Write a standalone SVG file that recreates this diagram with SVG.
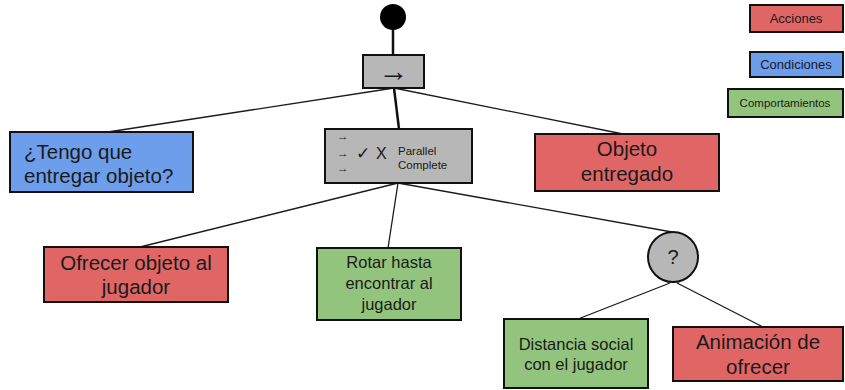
<svg xmlns="http://www.w3.org/2000/svg" width="845" height="390" viewBox="0 0 845 390">
  <style>
    .box { stroke: #111; stroke-width: 2; }
    .accion { fill: #e06666; }
    .condicion { fill: #6d9eeb; }
    .comportamiento { fill: #93c47d; }
    .control { fill: #b7b7b7; }
    .t { font-family: "Liberation Sans", Arial, sans-serif; fill: #1a1a1a; }
    .c { text-anchor: middle; }
    .edge { stroke: #1a1a1a; stroke-width: 1.3; fill: none; }
    .edge-main { stroke: #111; stroke-width: 2.5; fill: none; }
  </style>
  <rect width="845" height="390" fill="#ffffff"/>

  <!-- connectors -->
  <g id="connectors">
    <line class="edge-main" x1="393" y1="30" x2="393" y2="55"/>
    <line class="edge-main" x1="394" y1="88" x2="399" y2="129"/>
    <line class="edge" x1="394" y1="88" x2="108" y2="132"/>
    <line class="edge" x1="394" y1="88" x2="623" y2="134"/>
    <line class="edge" x1="398" y1="183" x2="140" y2="247"/>
    <line class="edge" x1="398" y1="183" x2="388" y2="248"/>
    <line class="edge" x1="398" y1="183" x2="672" y2="232"/>
    <line class="edge" x1="670" y1="283" x2="578" y2="319"/>
    <line class="edge" x1="677" y1="283" x2="763" y2="327"/>
  </g>

  <!-- root -->
  <g id="raiz">
    <circle cx="393" cy="17" r="13" fill="#000"/>
  </g>

  <!-- sequence -->
  <g id="secuencia">
    <rect class="box control" x="363" y="55" width="61" height="33"/>
    <text class="t c" x="393.5" y="81" font-size="30">→</text>
  </g>

  <!-- parallel -->
  <g id="paralelo">
    <rect class="box control" x="325" y="129" width="147" height="54"/>
    <text class="t" x="337" y="140" font-size="11.5" fill="#444">→</text>
    <text class="t" x="337" y="157" font-size="11.5" fill="#444">→</text>
    <text class="t" x="337" y="172" font-size="11.5" fill="#444">→</text>
    <text class="t" x="356" y="159" font-size="17">✓</text>
    <text class="t" x="376" y="159" font-size="16">X</text>
    <text class="t" x="398" y="155" font-size="11.5">Parallel</text>
    <text class="t" x="398" y="169" font-size="11.5">Complete</text>
  </g>

  <g id="tengo-que-entregar">
    <rect class="box condicion" x="10" y="132" width="183" height="60"/>
    <text class="t" x="24" y="159" font-size="20.5">¿Tengo que</text>
    <text class="t" x="24" y="183" font-size="20.5">entregar objeto?</text>
  </g>

  <g id="objeto-entregado">
    <rect class="box accion" x="535" y="134" width="184" height="57"/>
    <text class="t c" x="627" y="156" font-size="20.5">Objeto</text>
    <text class="t c" x="627" y="181" font-size="20.5">entregado</text>
  </g>

  <g id="ofrecer-objeto">
    <rect class="box accion" x="44" y="247" width="184" height="55"/>
    <text class="t c" x="136" y="270" font-size="20.5">Ofrecer objeto al</text>
    <text class="t c" x="136" y="294" font-size="20.5">jugador</text>
  </g>

  <g id="rotar">
    <rect class="box comportamiento" x="317" y="248" width="144" height="72"/>
    <text class="t c" x="389" y="268" font-size="16.5">Rotar hasta</text>
    <text class="t c" x="389" y="289" font-size="16.5">encontrar al</text>
    <text class="t c" x="389" y="310" font-size="16.5">jugador</text>
  </g>

  <g id="selector">
    <circle class="box control" cx="673" cy="257" r="25"/>
    <text class="t c" x="673" y="264" font-size="20">?</text>
  </g>

  <g id="distancia-social">
    <rect class="box comportamiento" x="504" y="319" width="144" height="69"/>
    <text class="t c" x="576" y="350" font-size="16.5">Distancia social</text>
    <text class="t c" x="576" y="370" font-size="16.5">con el jugador</text>
  </g>

  <g id="animacion-ofrecer">
    <rect class="box accion" x="673" y="327" width="170" height="54"/>
    <text class="t c" x="758" y="349" font-size="20.5">Animación de</text>
    <text class="t c" x="758" y="374" font-size="20.5">ofrecer</text>
  </g>

  <!-- legend -->
  <g id="leyenda-acciones">
    <rect class="box accion" x="750" y="5" width="93" height="27"/>
    <text class="t c" x="796" y="23" font-size="13">Acciones</text>
  </g>
  <g id="leyenda-condiciones">
    <rect class="box condicion" x="750" y="52" width="93" height="25"/>
    <text class="t c" x="796" y="69" font-size="13">Condiciones</text>
  </g>
  <g id="leyenda-comportamientos">
    <rect class="box comportamiento" x="728" y="89" width="115" height="28"/>
    <text class="t c" x="785" y="107" font-size="11.5">Comportamientos</text>
  </g>
</svg>
